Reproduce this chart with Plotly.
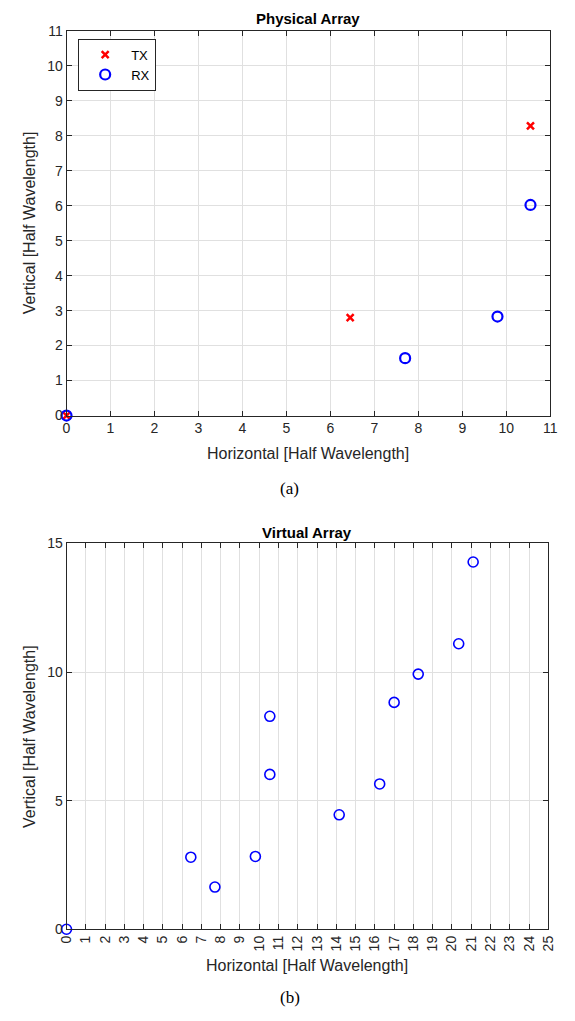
import plotly.graph_objects as go

# Physical array
tx_x = [0, 6.45, 10.55]
tx_y = [0, 2.8, 8.28]
rx_x = [0, 7.7, 9.8, 10.55]
rx_y = [0, 1.64, 2.83, 6.02]

# Virtual array
va_x = [0, 6.45, 7.7, 9.8, 10.55, 10.55, 14.15, 16.25, 17.0, 18.25, 20.35, 21.1]
va_y = [0, 2.8, 1.64, 2.83, 6.02, 8.28, 4.45, 5.65, 8.82, 9.92, 11.1, 14.28]

top_ticks_x = list(range(0, 12))
top_ticks_y = list(range(0, 12))
bot_ticks_x = list(range(0, 26))
bot_ticks_y = [0, 5, 10, 15]

# page is 575x1021; the default body margin of 8px surrounds the figure
PAGE_W, PAGE_H = 575, 1021
OFF = 8
W, H = PAGE_W - 2 * OFF, PAGE_H - 2 * OFF
FONT = "Liberation Sans, Arial, Helvetica, sans-serif"
SERIF = "Liberation Serif, Times New Roman, serif"
AX = "#262626"
GRID = "#e0e0e0"

def px_x(p):
    return (p - OFF) / W

def px_y(p):
    return 1 - (p - OFF) / H

fig = go.Figure()
fig.add_trace(go.Scatter(x=tx_x, y=tx_y, mode="markers", name="TX",
                         marker=dict(symbol="x-thin-open", size=7, color="red",
                                     line=dict(color="red", width=2.5)),
                         cliponaxis=False, xaxis="x", yaxis="y"))
fig.add_trace(go.Scatter(x=rx_x, y=rx_y, mode="markers", name="RX",
                         marker=dict(symbol="circle-open", size=10, color="blue",
                                     line=dict(color="blue", width=2.2)),
                         cliponaxis=False, xaxis="x", yaxis="y"))
fig.add_trace(go.Scatter(x=va_x, y=va_y, mode="markers", name="Virtual",
                         marker=dict(symbol="circle-open", size=10, color="blue",
                                     line=dict(color="blue", width=1.6)),
                         cliponaxis=False, showlegend=False, xaxis="x2", yaxis="y2"))

common = dict(showline=True, linecolor=AX, linewidth=1, mirror="allticks",
              ticks="inside", ticklen=5, tickcolor=AX, showgrid=True,
              gridcolor=GRID, gridwidth=1, zeroline=False,
              tickfont=dict(family=FONT, size=14, color=AX), fixedrange=True)

fig.update_layout(
    width=W, height=H, margin=dict(l=0, r=0, t=0, b=0),
    paper_bgcolor="white", plot_bgcolor="white",
    font=dict(family=FONT, size=14, color=AX),
    xaxis=dict(domain=[px_x(60), px_x(558)], range=[0, 11], tickvals=top_ticks_x,
               anchor="y", **common),
    yaxis=dict(domain=[px_y(414), px_y(23)], range=[0, 11], tickvals=top_ticks_y,
               anchor="x", **common),
    xaxis2=dict(domain=[px_x(60), px_x(556)], range=[0, 25], tickvals=bot_ticks_x,
                tickangle=-90, anchor="y2", **common),
    yaxis2=dict(domain=[px_y(936), px_y(544)], range=[0, 15], tickvals=bot_ticks_y,
                anchor="x2", **common),
    legend=dict(x=px_x(72), y=px_y(31), xanchor="left", yanchor="top",
                bordercolor=AX, borderwidth=1, bgcolor="white",
                font=dict(family=FONT, size=13, color="black"),
                itemwidth=42, tracegroupgap=0),
    showlegend=True,
)

def label(text, x, y, size, family=FONT, color=AX, angle=0):
    return dict(text=text, x=px_x(x), y=px_y(y), xref="paper", yref="paper",
                xanchor="center", yanchor="middle", showarrow=False,
                textangle=angle, font=dict(family=family, size=size, color=color))

ann = [
    label("<b>Physical Array</b>", 309, 11, 15, color="black"),
    label("<b>Virtual Array</b>", 308, 533, 15, color="black"),
    label("Horizontal [Half Wavelength]", 309, 453, 16),
    label("Horizontal [Half Wavelength]", 308, 973, 16),
    label("Vertical [Half Wavelength]", 22, 218, 16, angle=-90),
    label("Vertical [Half Wavelength]", 22, 740, 16, angle=-90),
    label("(a)", 290, 488, 17, family=SERIF, color="black"),
    label("(b)", 290, 1005, 17, family=SERIF, color="black"),
]
fig.update_layout(annotations=ann)

fig.write_html("out.html", config={"displayModeBar": False})
